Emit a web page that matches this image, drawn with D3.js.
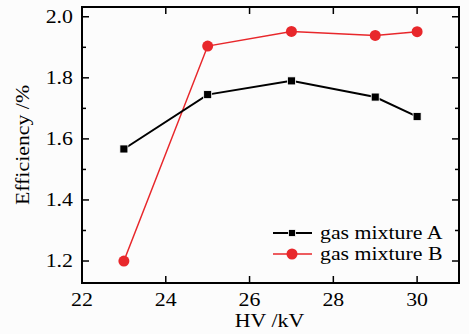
<!DOCTYPE html>
<html><head><meta charset="utf-8">
<script src="https://cdn.jsdelivr.net/npm/d3@7"></script>
<style>body{margin:0;background:#fcfcfc}svg{display:block}</style>
</head><body>
<script>
const hv = [23, 25, 27, 29, 30];
const seriesA = [1.567, 1.745, 1.790, 1.737, 1.673];
const seriesB = [1.200, 1.904, 1.952, 1.939, 1.951];
const seriesNames = ["gas mixture A", "gas mixture B"];
const xTicks = [22, 24, 26, 28, 30];
const yTicks = [1.2, 1.4, 1.6, 1.8, 2.0];
const yMinor = [1.3, 1.5, 1.7, 1.9];

const W = 469, H = 334;
const m = {l: 82, r: 10, t: 7, b: 51};
const FS = 18.5, STRETCH = 1.18;
const svg = d3.select("body").append("svg").attr("width", W).attr("height", H)
  .style("font-family", "'Liberation Serif', 'Times New Roman', serif");
svg.append("rect").attr("width", W).attr("height", H).attr("fill", "#fcfcfc");

const x = d3.scaleLinear().domain([22, 31]).range([m.l, W - m.r]);
const y = d3.scaleLinear().domain([1.128, 2.032]).range([H - m.b, m.t]);

const g = svg.append("g");
const tickStyle = s => s.attr("stroke", "#000").attr("stroke-width", 1.5);
const X0 = x.range()[0], X1 = x.range()[1], Y0 = y.range()[0], Y1 = y.range()[1];
xTicks.forEach(t => {
  tickStyle(g.append("line").attr("x1", x(t)).attr("x2", x(t)).attr("y1", Y0).attr("y2", Y0 - 7));
  tickStyle(g.append("line").attr("x1", x(t)).attr("x2", x(t)).attr("y1", Y1).attr("y2", Y1 + 7));
  g.append("text").attr("class", "lbl").attr("x", x(t)).attr("y", 305.5).attr("text-anchor", "middle")
    .attr("font-size", FS).text(t);
});
yTicks.forEach(t => {
  tickStyle(g.append("line").attr("x1", X0).attr("x2", X0 + 7).attr("y1", y(t)).attr("y2", y(t)));
  tickStyle(g.append("line").attr("x1", X1).attr("x2", X1 - 7).attr("y1", y(t)).attr("y2", y(t)));
  g.append("text").attr("class", "lbl").attr("x", X0 - 9).attr("y", y(t)).attr("dy", "0.34em").attr("text-anchor", "end")
    .attr("font-size", FS).text(d3.format(".1f")(t));
});
yMinor.forEach(t => {
  tickStyle(g.append("line").attr("x1", X0).attr("x2", X0 + 4).attr("y1", y(t)).attr("y2", y(t)));
  tickStyle(g.append("line").attr("x1", X1).attr("x2", X1 - 4).attr("y1", y(t)).attr("y2", y(t)));
});
g.append("rect").attr("x", X0).attr("y", Y1).attr("width", X1 - X0).attr("height", Y0 - Y1)
  .attr("fill", "none").attr("stroke", "#000").attr("stroke-width", 2);

svg.append("text").attr("class", "lbl").attr("x", (X0 + X1) / 2 - 1).attr("y", 326.5).attr("text-anchor", "middle")
  .attr("font-size", FS).text("HV /kV");
svg.append("text").attr("class", "lbl").attr("transform", `translate(29,${(Y0 + Y1) / 2}) rotate(-90)`)
  .attr("text-anchor", "middle").attr("font-size", FS).text("Efficiency /%");

const line = d3.line().x((d, i) => x(hv[i])).y(d => y(d));
const red = "#e8272b";
svg.append("path").datum(seriesB).attr("d", line).attr("fill", "none").attr("stroke", red).attr("stroke-width", 1.5);
svg.append("path").datum(seriesA).attr("d", line).attr("fill", "none").attr("stroke", "#000").attr("stroke-width", 2);
svg.selectAll(".ma").data(seriesA).enter().append("rect")
  .attr("x", (d, i) => x(hv[i]) - 4).attr("y", d => y(d) - 4).attr("width", 8).attr("height", 8)
  .attr("fill", "#000").attr("stroke", "#fff").attr("stroke-width", 0.8);
svg.selectAll(".mb").data(seriesB).enter().append("circle")
  .attr("cx", (d, i) => x(hv[i])).attr("cy", d => y(d)).attr("r", 5.5).attr("fill", red);

const lg = svg.append("g");
[0, 1].forEach(k => {
  const ly = 233 + k * 21;
  const col = k === 0 ? "#000" : red;
  lg.append("line").attr("x1", 273).attr("x2", 312).attr("y1", ly).attr("y2", ly)
    .attr("stroke", col).attr("stroke-width", k === 0 ? 2 : 1.5);
  if (k === 0) lg.append("rect").attr("x", 288.5).attr("y", ly - 3.5).attr("width", 7).attr("height", 7).attr("fill", "#000").attr("stroke", "#fff").attr("stroke-width", 0.8);
  else lg.append("circle").attr("cx", 292).attr("cy", ly).attr("r", 5.5).attr("fill", red);
  lg.append("text").attr("class", "lbl").attr("x", 320).attr("y", ly).attr("dy", "0.32em").attr("font-size", FS).text(seriesNames[k]);
});

svg.selectAll("text.lbl").each(function() {
  const len = this.getComputedTextLength();
  d3.select(this).attr("textLength", len * STRETCH).attr("lengthAdjust", "spacingAndGlyphs");
});
</script>
</body></html>
